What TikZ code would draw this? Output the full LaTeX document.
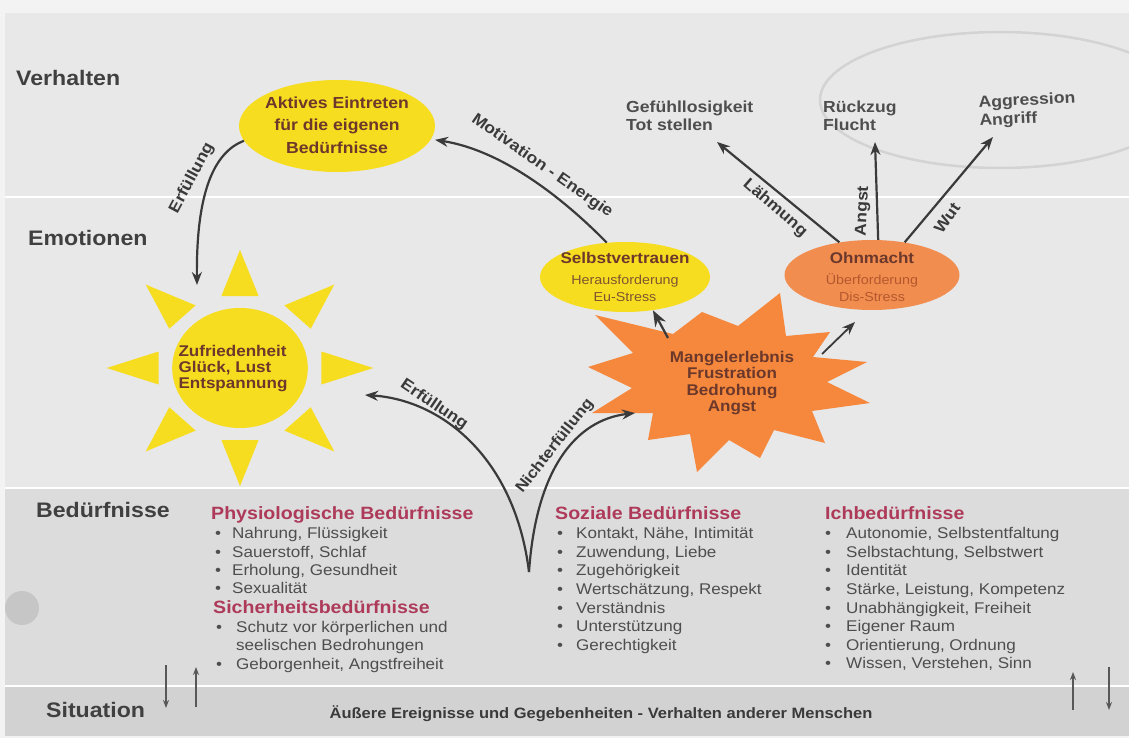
\documentclass[tikz,border=0pt]{standalone}
\usepackage{fontspec}
\setmainfont[FakeStretch=1.1]{Liberation Sans}
\usetikzlibrary{arrows.meta,shapes.geometric}
\definecolor{pagec}{HTML}{F3F3F3}
\definecolor{paperc}{HTML}{E8E8E8}
\definecolor{bandc}{HTML}{DCDCDC}
\definecolor{sitc}{HTML}{D2D2D2}
\definecolor{rowc}{HTML}{404040}
\definecolor{arrowc}{HTML}{3A3A3A}
\definecolor{yel}{HTML}{F7DD1F}
\definecolor{orng}{HTML}{F5883C}
\definecolor{orng2}{HTML}{F28D50}
\definecolor{brn}{HTML}{6B382B}
\definecolor{subbrn}{HTML}{7E5530}
\definecolor{suborg}{HTML}{B4582E}
\definecolor{headc}{HTML}{AE3A5A}
\definecolor{listc}{HTML}{4E4E4E}
\definecolor{ghostc}{HTML}{D3D3D3}
\definecolor{holec}{HTML}{C6C6C6}
\newcommand{\myfs}[2]{\fontsize{#1}{#2}\selectfont}
\newcommand{\bu}[1]{\makebox[#1][l]{•}}
\begin{document}
\begin{tikzpicture}[x=1pt,y=-1pt,
 arr/.style={draw=arrowc, line width=2.2pt, -{Stealth[length=13pt,width=10pt]}},
 thinarr/.style={draw=arrowc!85, line width=1.5pt, -{Stealth[length=8pt,width=6pt]}},
 rowlabel/.style={font=\myfs{21}{24}\bfseries, text=rowc, anchor=west, inner sep=0pt},
 lbl/.style={font=\myfs{16}{18}\bfseries, text=arrowc, inner sep=0pt},
 blob/.style={ellipse, inner sep=0pt},
 brtxt/.style={text=brn, inner sep=0pt, align=center},
 toptxt/.style={font=\myfs{16}{18}\bfseries, text=arrowc!90, align=left, anchor=north west, inner sep=0pt},
 head/.style={font=\myfs{17.8}{20}\bfseries, text=headc, anchor=base west, inner sep=0pt},
 item/.style={font=\myfs{15.5}{18}, text=listc, anchor=base west, inner sep=0pt},
]
\useasboundingbox (0,0) rectangle (1129,738);
% paper and bands
\fill[pagec] (0,0) rectangle (1129,738);
\fill[paperc] (5,13) rectangle (1129,736);
\fill[bandc] (5,488) rectangle (1129,686);
\fill[sitc] (5,686) rectangle (1129,736);
\draw[white, line width=2pt] (5,197) -- (1129,197);
\draw[white, line width=2pt] (5,488) -- (1129,488);
\draw[white, line width=2pt] (5,686) -- (1129,686);
\fill[holec] (22,608) circle (17);
\begin{scope}
  \clip (0,0) rectangle (1129,738);
  \draw[ghostc, line width=2.5pt] (1000,100) ellipse [x radius=180, y radius=68];
\end{scope}

% row labels
\node[rowlabel] (verh) at (16,78) {Verhalten};
\node[rowlabel] (emo) at (28,238) {Emotionen};
\node[rowlabel] (bed) at (36,510) {Bedürfnisse};
\node[rowlabel] (sitl) at (46,710) {Situation};

% Aktives Eintreten
\node[blob, fill=yel, minimum width=196pt, minimum height=92pt] (akt) at (337,126) {};
\node[brtxt, font=\myfs{16}{22.5}\bfseries] (aktT) at (337,125) {Aktives Eintreten\\für die eigenen\\Bedürfnisse};

% sun
\begin{scope}[shift={(240,368)}, xscale=1.13]
  \foreach \a in {0,45,...,315}
    \fill[yel, rotate=\a] (72,-16.5) -- (118,0) -- (72,16.5) -- cycle;
  \fill[yel] (0,0) circle (60);
\end{scope}
\node[brtxt, align=left, font=\myfs{15.5}{16}\bfseries] (sun) at (233,369) {Zufriedenheit\\Glück, Lust\\Entspannung};

% Selbstvertrauen
\node[blob, fill=yel, minimum width=170pt, minimum height=70pt] (selbst) at (625,277) {};
\node[brtxt, font=\myfs{15.5}{18}\bfseries] (selbstT) at (625,258) {Selbstvertrauen};
\node[brtxt, text=subbrn, font=\myfs{13}{17}] (selbstS) at (625,288) {Herausforderung\\Eu-Stress};

% Ohnmacht
\node[blob, fill=orng2, minimum width=175pt, minimum height=70pt] (ohn) at (872,275) {};
\node[brtxt, font=\myfs{15.5}{18}\bfseries] (ohnT) at (872,258) {Ohnmacht};
\node[brtxt, text=suborg, font=\myfs{13}{17}] (ohnS) at (872,288) {Überforderung\\Dis-Stress};

% star
\fill[orng] (595,315) -- (673,334) -- (702,312) -- (738,326) -- (780,293) -- (786,336)
  -- (830,332) -- (813,357) -- (867,362) -- (827,382) -- (870,403) -- (812,411)
  -- (825,443) -- (774,430) -- (760,458) -- (729,440) -- (697,472) -- (690,434)
  -- (648,440) -- (653,413) -- (592,413) -- (632,388) -- (588,367) -- (633,353) -- cycle;
\node[brtxt, font=\myfs{15.5}{16.5}\bfseries] (star) at (732,383) {Mangelerlebnis\\Frustration\\Bedrohung\\Angst};

% top texts
\node[toptxt] (gef) at (626,101) {Gefühllosigkeit\\Tot stellen};
\node[toptxt] (rue) at (823,101) {Rückzug\\Flucht};
\node[toptxt, rotate=3] (agg) at (978,96) {Aggression\\Angriff};

% coordinates
\coordinate (sunTL) at (197,285);
\coordinate (sunR) at (365,395);
\coordinate (src) at (529,572);
\coordinate (starL) at (635,413);
\coordinate (stS) at (668,338);
\coordinate (stO) at (822,354);
\coordinate (ohnB) at (855,322);
\coordinate (tgL) at (717,142);
\coordinate (tgA) at (875,142);
\coordinate (tgW) at (993,137);

% connectors
\draw[arr] (akt.189) .. controls (215,152) and (196,190) .. (sunTL);
\node[lbl, rotate=62] (l1) at (192,178) {Erfüllung};
\draw[arr] (src) .. controls (515,458) and (442,400) .. (sunR);
\node[lbl, rotate=-34] (l2) at (434,405) {Erfüllung};
\draw[arr] (src) .. controls (536,470) and (575,420) .. (starL);
\node[lbl, font=\myfs{15.5}{18}\bfseries, rotate=52] (l3) at (555,446) {Nichterfüllung};
\draw[arr, shorten >=4pt] (selbst.118) .. controls (560,195) and (500,150) .. (akt.352);
\node[lbl, rotate=-35] (l4) at (542,166) {Motivation - Energie};
\draw[arr, -{Stealth[length=16pt,width=12pt]}] (stS) -- (selbst.-50);
\draw[arr, line width=1.8pt] (stO) -- (ohnB);
\draw[arr] (ohn.135) -- (tgL);
\draw[arr] (ohn.80) -- (tgA);
\draw[arr] (ohn.45) -- (tgW);
\node[lbl, rotate=-41] (l5) at (775,208) {Lähmung};
\node[lbl, rotate=87] (l6) at (863,211) {Angst};
\node[lbl, rotate=55] (l7) at (947,218) {Wut};

% lists
\node[head] (hphys) at (211,519.4) {Physiologische Bedürfnisse};
\foreach \t [count=\i from 0] in {{Nahrung, Flüssigkeit},{Sauerstoff, Schlaf},{Erholung, Gesundheit},{Sexualität}}
  \node[item] (p\i) at (215,{538.6+18.4*\i}) {\bu{17pt}\t};
\node[head] (hsich) at (213,613.4) {Sicherheitsbedürfnisse};
\node[item] (s0) at (216,632.6) {\bu{20pt}Schutz vor körperlichen und};
\node[item] (s1) at (236,650.8) {seelischen Bedrohungen};
\node[item] (s2) at (216,669) {\bu{20pt}Geborgenheit, Angstfreiheit};

\node[head] (hsoz) at (555,519.4) {Soziale Bedürfnisse};
\foreach \t [count=\i from 0] in {{Kontakt, Nähe, Intimität},{Zuwendung, Liebe},{Zugehörigkeit},{Wertschätzung, Respekt},{Verständnis},{Unterstützung},{Gerechtigkeit}}
  \node[item] (z\i) at (557,{538.6+18.6*\i}) {\bu{19pt}\t};

\node[head] (hich) at (825,519.4) {Ichbedürfnisse};
\foreach \t [count=\i from 0] in {{Autonomie, Selbstentfaltung},{Selbstachtung, Selbstwert},{Identität},{Stärke, Leistung, Kompetenz},{Unabhängigkeit, Freiheit},{Eigener Raum},{Orientierung, Ordnung},{Wissen, Verstehen, Sinn}}
  \node[item] (i\i) at (825,{538.6+18.6*\i}) {\bu{21pt}\t};

% situation
\node[inner sep=0pt, font=\myfs{15}{16}\bfseries, text=arrowc] (sit) at (601,714) {Äußere Ereignisse und Gegebenheiten - Verhalten anderer Menschen};
\coordinate (d1a) at (166,665); \coordinate (d1b) at (166,708);
\coordinate (u1a) at (196,707); \coordinate (u1b) at (196,667);
\coordinate (u2a) at (1073,710); \coordinate (u2b) at (1073,672);
\coordinate (d2a) at (1109,667); \coordinate (d2b) at (1109,710);
\draw[thinarr] (d1a) -- (d1b);
\draw[thinarr] (u1a) -- (u1b);
\draw[thinarr] (u2a) -- (u2b);
\draw[thinarr] (d2a) -- (d2b);
\end{tikzpicture}
\end{document}
